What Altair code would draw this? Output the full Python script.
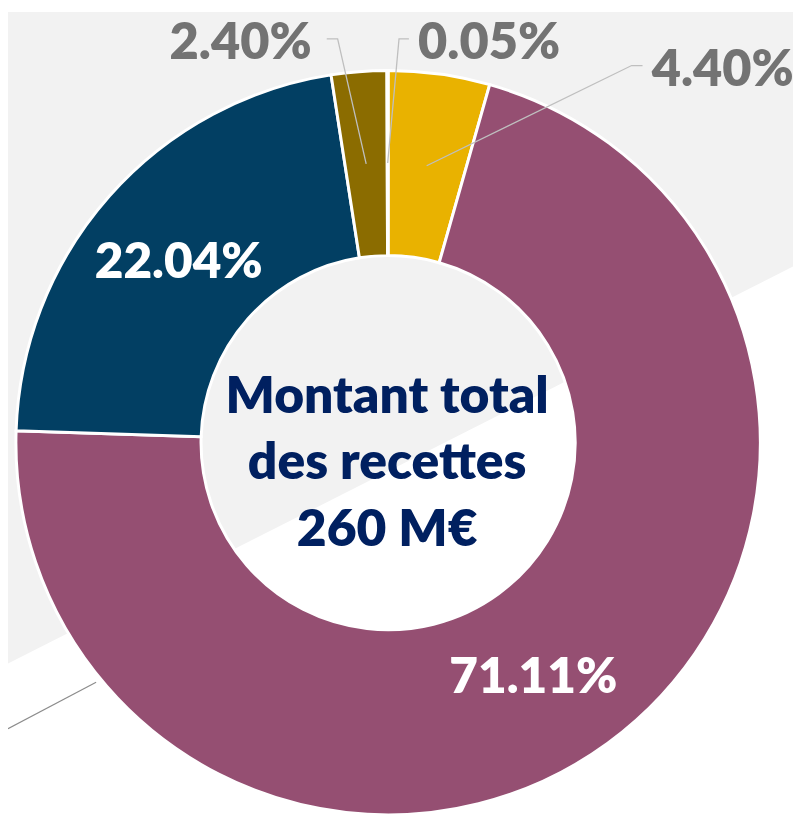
import altair as alt
import pandas as pd
import numpy as np

# ---------------- data ----------------
labels = ["4.40%", "71.11%", "22.04%", "2.40%", "0.05%"]
shares = [4.40, 71.11, 22.04, 2.40, 0.05]
colors = ["#E9B200", "#954F72", "#023F63", "#8B6C00", "#A5A5A5"]
center_lines = ["Montant total", "des recettes", "260 M€"]
inside_labels = ["71.11%", "22.04%"]
outside_labels = ["2.40%", "0.05%", "4.40%"]

# ---------------- layout (pixels) ----------------
W, H = 793, 811
CX, CY = 384, 435
R_OUT, R_IN = 376, 189
R_MID = (R_OUT + R_IN) / 2
BG_Y_LEFT, BG_Y_RIGHT = 658, 257
# outside label placement: text x, baseline y, leader start x/y, elbow x
OUT_POS = {
    "2.40%": (235, 47, 322, 27, 333),
    "0.05%": (486, 47, 405, 27, 395),
    "4.40%": (722, 75, 641, 54, 630),
}
IN_OFF = {"71.11%": (-20, 7), "22.04%": (0, 3)}
CENTER_X = 383
CENTER_BASE = [405, 472, 539]
EXTRA_LINE = [(0, 724), (89, 677)]
FONT = "Lato"
WEIGHT = 800

df = pd.DataFrame({"label": labels, "share": shares, "order": list(range(len(labels)))})
total = df["share"].sum()
start = (df["share"].cumsum() - df["share"]) / total
mid = (start + df["share"] / total / 2) * 2 * np.pi
df["mx"] = CX + R_MID * np.sin(mid)
df["my"] = CY - R_MID * np.cos(mid)
pos = df.set_index("label")

xs = alt.Scale(domain=[0, W], nice=False, zero=False)
ys = alt.Scale(domain=[0, H], reverse=True, nice=False, zero=False)

def X(f):
    return alt.X(f + ":Q", scale=xs, axis=None)

def Y(f):
    return alt.Y(f + ":Q", scale=ys, axis=None)

bg_df = pd.DataFrame({"x": [0, W], "y": [BG_Y_LEFT, BG_Y_RIGHT]})
bg = alt.Chart(bg_df).mark_area(color="#F2F2F2").encode(x=X("x"), y=Y("y"), y2=alt.value(0))

extra_df = pd.DataFrame({"x": [p[0] for p in EXTRA_LINE], "y": [p[1] for p in EXTRA_LINE]})
extra = alt.Chart(extra_df).mark_line(color="#8C8C8C", strokeWidth=1.2).encode(x=X("x"), y=Y("y"))

arc = alt.Chart(df).mark_arc(innerRadius=R_IN, outerRadius=R_OUT, stroke="white", strokeWidth=3).encode(
    theta=alt.Theta("share:Q", stack=True),
    color=alt.Color("label:N", scale=alt.Scale(domain=labels, range=colors), legend=None),
    order=alt.Order("order:Q"),
    x=alt.value(CX),
    y=alt.value(CY),
)

rows = []
for lab in outside_labels:
    tx, ty, sx, sy, ex = OUT_POS[lab]
    rows.append({"label": lab, "seq": 0, "x": sx, "y": sy})
    rows.append({"label": lab, "seq": 1, "x": ex, "y": sy})
    rows.append({"label": lab, "seq": 2, "x": pos.loc[lab, "mx"], "y": pos.loc[lab, "my"]})
lead_df = pd.DataFrame(rows)
leaders = alt.Chart(lead_df).mark_line(color="#BFBFBF", strokeWidth=1.3).encode(
    x=X("x"), y=Y("y"), detail="label:N", order="seq:Q"
)

out_df = pd.DataFrame({
    "label": outside_labels,
    "x": [OUT_POS[l][0] for l in outside_labels],
    "y": [OUT_POS[l][1] for l in outside_labels],
})
out_text = alt.Chart(out_df).mark_text(
    font=FONT, fontWeight=WEIGHT, fontSize=51, color="#737373", align="center", baseline="alphabetic"
).encode(x=X("x"), y=Y("y"), text="label:N")

in_df = pd.DataFrame({
    "label": inside_labels,
    "x": [pos.loc[l, "mx"] + IN_OFF[l][0] for l in inside_labels],
    "y": [pos.loc[l, "my"] + IN_OFF[l][1] + 18 for l in inside_labels],
})
in_text = alt.Chart(in_df).mark_text(
    font=FONT, fontWeight=WEIGHT, fontSize=50, color="white", align="center", baseline="alphabetic"
).encode(x=X("x"), y=Y("y"), text="label:N")

c_df = pd.DataFrame({"t": center_lines, "x": [CENTER_X] * 3, "y": CENTER_BASE})
c_text = alt.Chart(c_df).mark_text(
    font=FONT, fontWeight=WEIGHT, fontSize=52, color="#002060", align="center", baseline="alphabetic"
).encode(x=X("x"), y=Y("y"), text="t:N")

chart = alt.layer(bg, extra, arc, leaders, out_text, in_text, c_text).properties(
    width=W, height=H, padding=0, autosize="none", background="white"
).configure_view(stroke=None)

chart.save("out.html", embed_options={"renderer": "svg", "actions": False})
